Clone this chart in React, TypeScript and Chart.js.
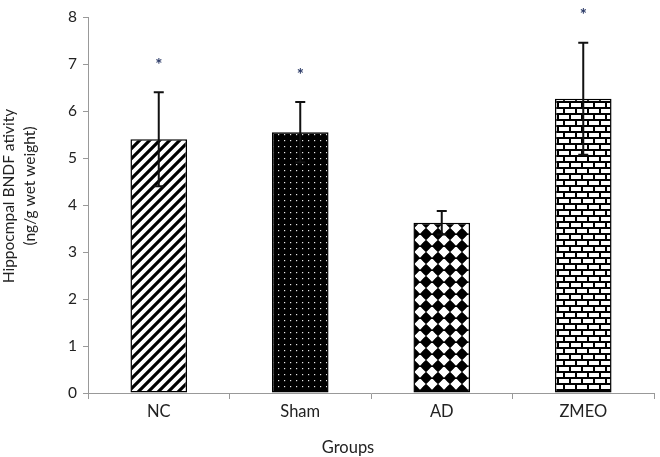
import React, { useEffect, useRef } from 'react';
import { Chart, registerables } from 'chart.js';

Chart.register(...registerables);

const categories = ['NC', 'Sham', 'AD', 'ZMEO'];
const means = [5.4, 5.55, 3.62, 6.26];
const errors = [1.0, 0.64, 0.25, 1.19];
const significance = ['*', '*', '', '*'];
const patternKinds = ['stripes', 'dots', 'diamonds', 'bricks'];
const yMin = 0;
const yMax = 8;
const yStep = 1;
const yTitle = ['Hippocmpal BNDF ativity', '(ng/g wet weight)'];
const xTitle = 'Groups';

const FONT = 'Lato, "Liberation Sans", sans-serif';

function makePattern(kind: string): CanvasPattern | string {
  const c = document.createElement('canvas');
  const ctx = c.getContext('2d');
  if (!ctx) return '#888';
  if (kind === 'stripes') {
    c.width = 10; c.height = 10;
    ctx.fillStyle = '#fff';
    ctx.fillRect(0, 0, 10, 10);
    ctx.strokeStyle = '#000';
    ctx.lineWidth = 3.2;
    ctx.beginPath();
    ctx.moveTo(-2, 12); ctx.lineTo(12, -2);
    ctx.moveTo(-2, 2); ctx.lineTo(2, -2);
    ctx.moveTo(8, 12); ctx.lineTo(12, 8);
    ctx.stroke();
  } else if (kind === 'dots') {
    c.width = 6; c.height = 6;
    ctx.fillStyle = '#000';
    ctx.fillRect(0, 0, 6, 6);
    ctx.fillStyle = '#e8e8e8';
    ctx.fillRect(2, 2, 1.2, 1.2);
  } else if (kind === 'diamonds') {
    c.width = 12; c.height = 12;
    ctx.fillStyle = '#fff';
    ctx.fillRect(0, 0, 12, 12);
    ctx.fillStyle = '#000';
    ctx.beginPath();
    ctx.moveTo(6, -0.3); ctx.lineTo(12.3, 6); ctx.lineTo(6, 12.3); ctx.lineTo(-0.3, 6);
    ctx.closePath();
    ctx.fill();
    ctx.beginPath();
    ctx.arc(6, 6, 4.2, 0, Math.PI * 2);
    ctx.fill();
  } else {
    c.width = 12; c.height = 12;
    ctx.fillStyle = '#000';
    ctx.fillRect(0, 0, 12, 12);
    ctx.fillStyle = '#fff';
    ctx.fillRect(1, 1, 10, 4);
    ctx.fillRect(-5, 7, 10, 4);
    ctx.fillRect(7, 7, 10, 4);
  }
  return ctx.createPattern(c, 'repeat') || '#888';
}

const errorBarPlugin = {
  id: 'errorBars',
  afterDatasetsDraw(chart: any) {
    const ctx = chart.ctx;
    const meta = chart.getDatasetMeta(0);
    const y = chart.scales.y;
    ctx.save();
    ctx.strokeStyle = '#111';
    ctx.lineWidth = 2;
    meta.data.forEach((bar: any, i: number) => {
      const x = bar.x;
      const top = y.getPixelForValue(means[i] + errors[i]);
      const bot = y.getPixelForValue(means[i] - errors[i]);
      ctx.beginPath();
      ctx.moveTo(x, top); ctx.lineTo(x, bot);
      ctx.moveTo(x - 5, top); ctx.lineTo(x + 5, top);
      ctx.moveTo(x - 5, bot); ctx.lineTo(x + 5, bot);
      ctx.stroke();
      if (significance[i]) {
        ctx.fillStyle = '#2b3a67';
        ctx.font = `bold 17px ${FONT}`;
        ctx.textAlign = 'center';
        ctx.textBaseline = 'middle';
        ctx.fillText(significance[i], x, top - 27);
      }
    });
    ctx.restore();
  },
  afterDraw(chart: any) {
    const ctx = chart.ctx;
    const area = chart.chartArea;
    const midY = (area.top + area.bottom) / 2;
    ctx.save();
    ctx.fillStyle = '#222';
    ctx.font = `16.5px ${FONT}`;
    ctx.textAlign = 'center';
    ctx.textBaseline = 'middle';
    ctx.fillText(xTitle, (area.left + area.right) / 2 - 23, chart.height - 9);
    ctx.font = `15.5px ${FONT}`;
    const offsets = [-9, -19];
    const xs = [9, 30];
    yTitle.forEach((line, i) => {
      ctx.save();
      ctx.translate(xs[i], midY + offsets[i]);
      ctx.rotate(-Math.PI / 2);
      ctx.fillText(line, 0, 0);
      ctx.restore();
    });
    ctx.restore();
  },
};

export default function App() {
  const ref = useRef<HTMLCanvasElement | null>(null);
  useEffect(() => {
    if (!ref.current) return;
    const chart = new Chart(ref.current, {
      type: 'bar',
      data: {
        labels: categories,
        datasets: [
          {
            data: means,
            backgroundColor: patternKinds.map((k) => makePattern(k)) as any,
            borderColor: '#000',
            borderWidth: 1.5,
            borderSkipped: false,
            barPercentage: 0.4,
            categoryPercentage: 1,
          },
        ],
      },
      options: {
        animation: false,
        responsive: true,
        maintainAspectRatio: false,
        layout: { padding: { top: 17, right: 6, left: 0, bottom: 0 } },
        plugins: { legend: { display: false }, tooltip: { enabled: false } },
        scales: {
          x: {
            afterFit: (s: any) => { s.height = 64; },
            grid: { drawOnChartArea: false, tickLength: 6, color: '#999', offset: true },
            border: { color: '#999', width: 1 },
            ticks: { color: '#222', font: { family: FONT, size: 16.5 }, padding: 3 },
          },
          y: {
            min: yMin,
            max: yMax,
            afterFit: (s: any) => { s.width = 88; },
            grid: { drawOnChartArea: false, tickLength: 5, color: '#999' },
            border: { color: '#999', width: 1 },
            ticks: { stepSize: yStep, color: '#222', font: { family: FONT, size: 15.5 }, padding: 6 },
          },
        },
      },
      plugins: [errorBarPlugin],
    });
    return () => chart.destroy();
  }, []);
  return (
    <div style={{ position: 'absolute', left: 0, top: 0, width: 660, height: 457, background: '#fff' }}>
      <canvas ref={ref} />
    </div>
  );
}
